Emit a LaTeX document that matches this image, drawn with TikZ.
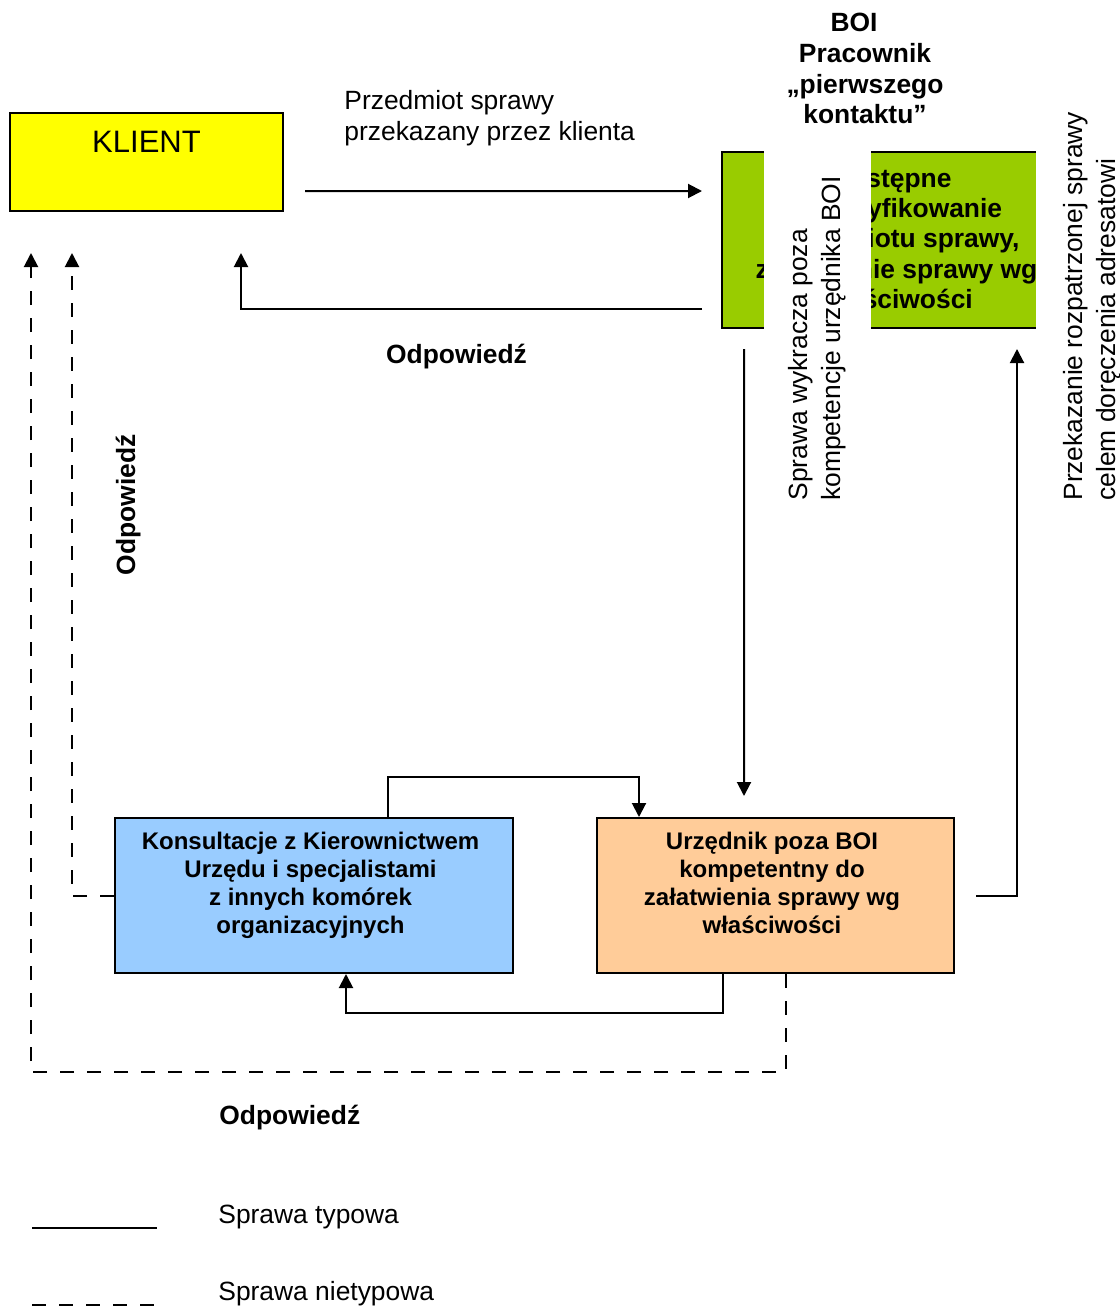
\documentclass[tikz,border=0pt]{standalone}
\usepackage{fontspec}
\setmainfont{Liberation Sans}
\usepackage{tikz}
\usetikzlibrary{arrows.meta, positioning, calc}

\definecolor{klientyellow}{HTML}{FFFF00}
\definecolor{boigreen}{HTML}{99CC00}
\definecolor{konsblue}{HTML}{99CCFF}
\definecolor{urzorange}{HTML}{FFCC99}

\begin{document}
\begin{tikzpicture}[x=5pt, y=-5pt, >={Triangle[length=7pt,width=7pt]}]
\tikzstyle{box} = [rectangle, draw=black, line width=1pt]
\tikzstyle{arrow} = [->, line width=1pt]
\tikzstyle{nietyp} = [->, line width=1pt, dash pattern=on 7pt off 6.5pt]
\tikzstyle{opis} = [inner sep=0pt, align=left, font=\fontsize{13.2}{15.5}\selectfont]
\tikzstyle{opisb} = [inner sep=0pt, align=center, font=\fontsize{13.2}{15.3}\selectfont\bfseries]
\tikzstyle{srodek} = [inner sep=0pt, align=center, font=\fontsize{12}{14}\selectfont\bfseries]

\useasboundingbox (0,0) rectangle (111.9,130.6);

% Boxes
\node[box, fill=klientyellow, minimum width=136.5pt, minimum height=49pt,
  label={[anchor=north, inner sep=0pt, yshift=-9.5pt, font=\fontsize{15.5}{18}\selectfont]north:KLIENT}] (klient) at (14.65,16.2) {};
\node[box, fill=boigreen, minimum width=157.5pt, minimum height=88pt,
  label={[srodek, font=\fontsize{13.2}{15.2}\selectfont\bfseries, xshift=8.5pt, yshift=0.5pt]center:{Wstępne\\zidentyfikowanie\\przedmiotu sprawy,\\załatwienie sprawy wg\\właściwości}}] (wstepne) at (87.95,24.0) {};
\node[box, fill=konsblue, minimum width=199pt, minimum height=77.5pt,
  label={[srodek, anchor=north, xshift=-1.75pt, yshift=-7.5pt]north:{Konsultacje z Kierownictwem\\Urzędu i specjalistami\\z innych komórek\\organizacyjnych}}] (konsultacje) at (31.4,89.55) {};
\node[box, fill=urzorange, minimum width=178.5pt, minimum height=77.5pt,
  label={[srodek, anchor=north, xshift=-1.75pt, yshift=-7.5pt]north:{Urzędnik poza BOI\\kompetentny do\\załatwienia sprawy wg\\właściwości}}] (urzednik) at (77.55,89.55) {};

% Texts
\node[opisb, anchor=north] (pracownik) at (86.5,1.3) {BOI\hspace*{11pt}\\Pracownik\\„pierwszego\\kontaktu”};
\node[opis, anchor=north west] (przedmiot) at (34.4,9.0) {Przedmiot sprawy\\przekazany przez klienta};
\node[opis, rotate=90, anchor=west, fill=white, inner xsep=15pt, minimum height=53.5pt,
  font=\fontsize{13.2}{16.5}\selectfont] (wykracza) at (81.7,53.1) {Sprawa wykracza poza\\kompetencje urzędnika BOI};
\node[opis, rotate=90, anchor=west, fill=white, inner xsep=4pt, minimum height=56pt,
  font=\fontsize{13.2}{16.5}\selectfont] (przekazanie) at (109.2,50.9) {Przekazanie rozpatrzonej sprawy\\celem doręczenia adresatowi};
\node[opisb, anchor=base] (odpA) at (45.65,36.3) {Odpowiedź};
\node[opisb, rotate=90, anchor=base] (odpB) at (13.5,50.5) {Odpowiedź};
\node[opisb, anchor=base west] (odpC) at (21.9,112.4) {Odpowiedź};

% Connections
\draw[arrow] ($(klient.east)+(2.1,2.9)$) -- ($(wstepne.west)+(-1.9,-4.9)$);
\draw[arrow] ($(wstepne.west)+(-1.9,6.9)$) -| ($(klient.south)+(9.45,4.1)$);
\draw[arrow] ($(wstepne.south)+(-13.55,2.0)$) -- ($(urzednik.north)+(-3.15,-2.1)$);
\draw[arrow] ($(urzednik.east)+(2.1,0)$) -| ($(wstepne.south)+(13.75,2.0)$);
\draw[arrow] ($(konsultacje.north)+(7.4,0)$) -- ++(0,-4) -| ($(urzednik.north west)+(4.3,0)$);
\draw[arrow] ($(urzednik.south)+(-5.25,0)$) -- ++(0,3.9) -| ($(konsultacje.south)+(3.2,0)$);
\draw[nietyp] ($(urzednik.south)+(1.05,0)$) -- ++(0,9.8) -| ($(klient.south west)+(2.2,4.1)$);
\draw[nietyp] (konsultacje.west) -| ($(klient.south west)+(6.3,4.1)$);

% Legend
\coordinate (typA) at (3.2,122.8);
\coordinate (typB) at (15.7,122.8);
\coordinate (nietypA) at (3.2,130.5);
\coordinate (nietypB) at (15.7,130.5);
\draw[line width=1pt] (typA) -- (typB);
\draw[line width=1pt, dash pattern=on 7pt off 6.5pt] (nietypA) -- (nietypB);
\node[opis, anchor=base west] (typowa) at (21.8,122.3) {Sprawa typowa};
\node[opis, anchor=base west] (nietypowa) at (21.8,130.0) {Sprawa nietypowa};
\end{tikzpicture}
\end{document}
